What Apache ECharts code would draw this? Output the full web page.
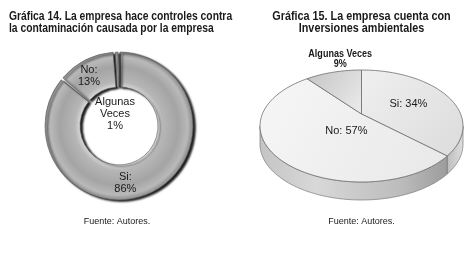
<!DOCTYPE html>
<html>
<head>
<meta charset="utf-8">
<script src="https://cdn.jsdelivr.net/npm/echarts@6/dist/echarts.min.js"></script>
<style>
  html, body { margin: 0; padding: 0; background: #fff; }
  #ChartDom { width: 465px; height: 253px; }
</style>
</head>
<body>
<div id="ChartDom"></div>
<script>
// Gráfica 14 (donut)
const donutNames = ['Si', 'No', 'Algunas Veces'];
const donutValues = [86, 13, 1];
// Gráfica 15 (pie 3D)
const pieNames = ['Si', 'No', 'Algunas Veces'];
const pieValues = [34, 57, 9];

const font = "'Liberation Sans', sans-serif";

// layout of the flattened pie
const pieBox = { cx: 361.5, cy: 126, rx: 101.5, ry: 56, depth: 18, apexDy: -12 };
const pieLabelSpec = [
  { f: 0.55, dx: -2, dy: -2, weight: 'normal', sx: 1, text: (n, v) => n + ': ' + v + '%' },
  { f: 0.28, dx: 5, dy: 3, weight: 'normal', sx: 1, text: (n, v) => n + ': ' + v + '%' },
  { f: 1.0, dx: 7, dy: -13, weight: 'bold', sx: 0.82, text: (n, v) => n + '\n' + v + '%' }
];
const pieTopColors = [
  ['#efefef', '#dcdcdc'],
  ['#f6f6f6', '#e8e8e8'],
  ['#c4c4c4', '#ececec']
];
const pieTotal = pieValues.reduce((a, b) => a + b, 0);

function ellPt(t, down) {
  const r = t * Math.PI / 180;
  return [pieBox.cx + pieBox.rx * Math.cos(r), pieBox.cy - pieBox.ry * Math.sin(r) + (down || 0)];
}

function arcPts(a, b, down) {
  const pts = [];
  const n = Math.max(2, Math.ceil(Math.abs(b - a) / 2));
  for (let i = 0; i <= n; i++) pts.push(ellPt(a + (b - a) * i / n, down));
  return pts;
}

function renderSlice(params, api) {
  const idx = params.dataIndex;
  const val = api.value(0);
  let before = 0;
  for (let i = 0; i < idx; i++) before += pieValues[i];
  const a1 = 90 - before / pieTotal * 360;
  const a2 = a1 - val / pieTotal * 360;
  const apex = [pieBox.cx, pieBox.cy + pieBox.apexDy];
  const children = [];

  // side faces (front half only)
  for (let k = -2; k <= 1; k++) {
    const lo = Math.max(a2, -180 + 360 * k);
    const hi = Math.min(a1, 360 * k);
    if (hi - lo > 0.01) {
      const top = arcPts(hi, lo, 0);
      const bot = arcPts(lo, hi, pieBox.depth);
      children.push({
        type: 'polygon',
        shape: { points: top.concat(bot) },
        style: {
          fill: new echarts.graphic.LinearGradient(0, 0, 1, 0, idx === 0
            ? [{ offset: 0, color: '#bdbdbd' }, { offset: 1, color: '#dedede' }]
            : [{ offset: 0, color: '#c4c4c4' }, { offset: 0.3, color: '#d8d8d8' }, { offset: 0.75, color: '#bcbcbc' }, { offset: 1, color: '#9c9c9c' }]),
          stroke: '#7a7a7a',
          lineWidth: 0.7
        }
      });
    }
  }

  // top face
  const rim = arcPts(a1, a2, 0);
  children.push({
    type: 'polygon',
    shape: { points: [apex].concat(rim) },
    style: {
      fill: new echarts.graphic.LinearGradient(0, 0, 1, 1, [
        { offset: 0, color: pieTopColors[idx][0] },
        { offset: 1, color: pieTopColors[idx][1] }
      ]),
      stroke: '#6e6e6e',
      lineWidth: 0.8
    }
  });

  // label
  const spec = pieLabelSpec[idx];
  const mid = ellPt((a1 + a2) / 2, 0);
  children.push({
    type: 'text',
    z2: 10,
    x: apex[0] + (mid[0] - apex[0]) * spec.f + spec.dx,
    y: apex[1] + (mid[1] - apex[1]) * spec.f + spec.dy,
    scaleX: spec.sx,
    style: {
      x: 0,
      y: 0,
      text: spec.text(pieNames[idx], val),
      align: 'center',
      verticalAlign: 'middle',
      fill: '#1a1a1a',
      fontFamily: font,
      fontWeight: spec.weight,
      fontSize: 11,
      lineHeight: 10
    }
  });
  return { type: 'group', children: children };
}

const ringColor = {
  type: 'radial', x: 119, y: 126, r: 74, global: true,
  colorStops: [
    { offset: 0.52, color: '#dadada' },
    { offset: 0.6, color: '#b6b6b6' },
    { offset: 0.8, color: '#a4a4a4' },
    { offset: 0.93, color: '#b9b9b9' },
    { offset: 1, color: '#8a8a8a' }
  ]
};

function headText(x, y, text, align, sx, bold, size) {
  return {
    type: 'text',
    x: x,
    y: y,
    scaleX: sx,
    silent: true,
    style: {
      x: 0,
      y: 0,
      text: text,
      align: align,
      verticalAlign: 'top',
      fill: '#1a1a1a',
      fontFamily: font,
      fontWeight: bold ? 'bold' : 'normal',
      fontSize: size,
      lineHeight: 12
    }
  };
}

const option = {
  animation: false,
  graphic: [
    headText(9, 11, 'Gráfica 14. La empresa hace controles contra\nla contaminación causada por la empresa', 'left', 0.86, true, 12),
    headText(361.5, 11, 'Gráfica 15. La empresa cuenta con\nInversiones ambientales', 'center', 0.9, true, 12),
    headText(117, 216, 'Fuente: Autores.', 'center', 1, false, 9),
    headText(361.5, 216, 'Fuente: Autores.', 'center', 1, false, 9)
  ],
  series: [
    {
      type: 'pie',
      center: [119, 126],
      radius: [39, 74],
      startAngle: 90,
      clockwise: true,
      padAngle: 2,
      silent: true,
      itemStyle: {
        color: ringColor,
        borderColor: '#5a5a5a',
        borderWidth: 0.6,
        shadowColor: 'rgba(0,0,0,0.9)',
        shadowBlur: 2,
        shadowOffsetX: 2.5,
        shadowOffsetY: 1.5
      },
      label: {
        position: 'inside',
        color: '#1a1a1a',
        fontFamily: font,
        fontSize: 11,
        lineHeight: 12,
        formatter: (p) => p.name + ':\n' + p.value + '%'
      },
      labelLayout: (p) => {
        if (p.dataIndex === 0) return { dx: -19, dy: 3 };
        if (p.dataIndex === 1) return { dx: -3, dy: 3 };
        return { dx: -4, dy: -12 };
      },
      data: donutNames.map((n, i) => {
        const d = { name: n, value: donutValues[i] };
        if (i === 2) {
          d.label = {
            position: 'center',
            formatter: 'Algunas\nVeces\n' + donutValues[i] + '%'
          };
        }
        return d;
      })
    },
    {
      type: 'custom',
      coordinateSystem: 'none',
      silent: true,
      renderItem: renderSlice,
      data: pieValues.map((v) => [v])
    }
  ]
};

const myChart = echarts.init(document.getElementById('ChartDom'));
myChart.setOption(option);
</script>
</body>
</html>
